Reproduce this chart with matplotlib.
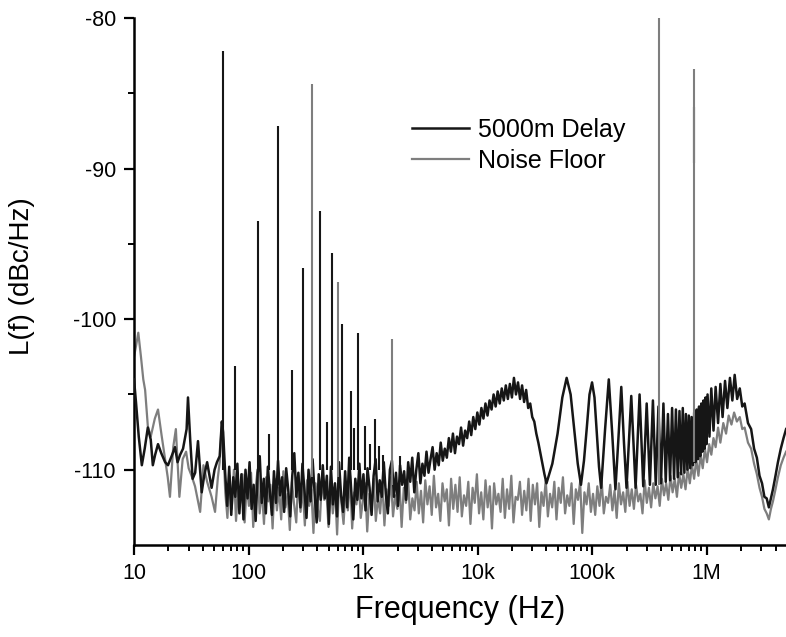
import numpy as np
import matplotlib.pyplot as plt
from matplotlib.ticker import FixedLocator, LogLocator, NullFormatter

plt.rcParams['font.family'] = ['Liberation Sans', 'DejaVu Sans']
plt.rcParams['axes.unicode_minus'] = False

# ---- 5000m Delay trace (dBc/Hz) ----
delay_f_low = [10, 10.4, 11.0, 11.7, 12.4, 13.2, 14.0, 14.6, 15.3, 16.2,
               17.3, 18.7, 19.8, 21.3, 22.8, 24.0, 25.3, 26.8, 28.8, 29.6,
               31.0, 32.5, 34.2, 36.2, 39.0, 41.0, 43.5, 47.6, 50.5, 53.0,
               56.0, 58.5]
delay_db_low = [-104.0, -105.5, -107.8, -109.7, -108.6, -107.2, -108.0, -109.7, -109.0, -108.3,
                -108.9, -109.5, -109.7, -109.1, -108.5, -109.5, -109.0, -108.6, -107.3, -105.2,
                -108.1, -110.6, -110.2, -108.1, -111.5, -110.4, -109.5, -111.2, -110.0, -109.5,
                -109.1, -106.8]
# log-spaced sweep 60 Hz .. 40 kHz
delay_db_mid = [
    -107.5, -110.2, -112.4, -109.8, -113.0, -110.5, -111.8, -109.6, -112.9, -110.3,
    -113.3, -110.0, -111.9, -109.5, -112.6, -111.0, -113.4, -110.2, -109.1, -112.2,
    -110.6, -112.9, -109.8, -111.5, -113.0, -110.1, -112.2, -109.4, -111.7, -110.5,
    -112.8, -109.9, -111.3, -113.1, -110.4, -108.9, -111.8, -110.2, -112.5, -109.6,
    -111.4, -113.2, -110.0, -112.1, -109.3, -111.6, -113.5, -110.3, -112.0, -109.7,
    -111.9, -110.4, -113.6, -109.8, -112.3, -110.9, -113.1, -109.5, -111.7, -112.8,
    -110.1, -112.5, -109.2, -111.4, -113.3, -110.6, -112.0, -109.6, -111.9, -110.3,
    -112.7, -109.9, -111.2, -113.0, -110.4, -109.3, -112.1, -110.7, -111.8, -109.5,
    -111.6, -112.9, -110.0, -109.4, -111.8, -110.2, -112.4, -109.7, -111.0, -110.1,
    -112.0, -109.5, -110.8, -109.2, -111.5, -110.0, -108.9, -110.9, -109.6, -110.4,
    -108.8, -110.2, -109.3, -108.5, -110.0, -108.9, -109.7, -108.2, -109.4, -108.6,
    -109.2, -107.9, -108.8, -107.6, -108.9, -107.8, -108.3, -107.2, -108.4, -107.4,
    -107.9, -106.8, -107.7, -106.5, -107.3, -106.2, -107.0, -105.9, -106.6, -105.6,
    -106.4, -105.4, -106.0, -105.0, -105.8, -104.8, -105.6, -104.6, -105.4, -104.4,
    -105.3, -104.3, -105.2, -103.9, -105.0, -104.2, -105.3, -104.4, -105.5, -104.7,
    -105.9, -105.6, -106.5, -106.8, -107.6, -108.2, -108.9, -109.6, -110.3, -110.9]
delay_f_comb = [45e3, 50e3, 55e3, 60e3, 65e3, 70e3, 75e3, 80e3, 85e3, 90e3,
                95e3, 100e3, 105e3, 110e3, 115e3, 120e3, 130e3, 140e3, 150e3, 160e3,
                170e3, 180e3, 190e3, 200e3, 220e3, 240e3, 260e3, 280e3, 300e3, 320e3,
                340e3, 360e3, 380e3, 400e3, 420e3, 440e3, 460e3, 480e3, 500e3, 520e3,
                540e3, 560e3, 580e3, 600e3, 620e3, 640e3, 660e3, 680e3, 700e3, 720e3,
                740e3, 760e3, 780e3, 800e3, 820e3, 840e3, 860e3, 880e3, 900e3, 920e3,
                940e3, 960e3, 980e3, 1000e3, 1020e3]
delay_db_comb = [-109.6, -107.6, -105.2, -103.9, -105.0, -107.4, -109.6, -111.0, -109.4, -107.2,
                 -105.0, -104.2, -105.2, -107.6, -109.8, -111.2, -107.3, -104.0, -107.6, -111.3,
                 -107.9, -104.5, -108.2, -111.2, -105.1, -111.2, -105.0, -111.1, -105.6, -111.0,
                 -105.4, -111.0, -105.8, -110.9, -105.6, -110.8, -106.3, -110.7, -105.9, -110.6,
                 -106.0, -110.5, -106.1, -110.3, -105.9, -110.2, -106.3, -110.0, -106.4, -109.9,
                 -106.5, -109.7, -106.2, -109.5, -106.0, -109.3, -105.8, -109.1, -105.6, -108.8,
                 -105.4, -108.6, -105.2, -108.3, -105.0]
delay_f_high = [1.06e6, 1.1e6, 1.15e6, 1.2e6, 1.26e6, 1.32e6, 1.38e6, 1.45e6, 1.52e6, 1.6e6,
                1.68e6, 1.76e6, 1.85e6, 1.95e6, 2.05e6, 2.15e6, 2.3e6, 2.45e6, 2.6e6, 2.75e6,
                2.9e6, 3.05e6, 3.2e6, 3.35e6, 3.5e6, 3.65e6, 3.8e6, 4.0e6, 4.2e6, 4.45e6,
                4.7e6, 4.95e6]
delay_db_high = [-107.8, -104.6, -107.4, -104.5, -106.9, -104.3, -106.5, -104.1, -105.9, -103.9,
                 -105.4, -103.7, -105.3, -104.6, -105.8, -105.6, -106.9, -107.3, -108.6, -109.2,
                 -110.4, -110.9, -111.8, -111.9, -112.5, -111.9, -111.3, -110.4, -109.5, -108.6,
                 -107.9, -107.3]

# ---- Noise Floor trace ----
floor_f_low = [10, 10.4, 10.9, 11.5, 12.05, 12.5, 13.2, 14.0, 15.2, 16.2,
               17.4, 18.7, 19.7, 20.6, 22.0, 23.2, 24.9, 26.6, 28.5, 30.0,
               31.8, 34.1, 37.8, 40.4, 43.5, 47.6, 51.0, 54.0, 56.0, 58.5]
floor_db_low = [-102.5, -101.8, -100.9, -102.5, -104.0, -104.7, -107.1, -107.8, -106.6, -106.0,
                -107.7, -109.3, -110.5, -111.8, -108.5, -107.3, -111.8, -109.3, -108.8, -109.9,
                -110.4, -111.1, -112.8, -109.7, -110.8, -111.8, -112.8, -110.5, -109.5, -106.8]
# log-spaced sweep 60 Hz .. 1.2 MHz
floor_db_mid = [
    -108.0, -111.5, -113.2, -110.4, -112.6, -110.0, -113.4, -111.1, -112.2, -110.3,
    -113.5, -111.0, -112.4, -110.2, -113.8, -111.4, -110.0, -112.9, -111.3, -113.6,
    -110.5, -112.1, -111.0, -113.9, -110.6, -112.7, -111.2, -113.3, -110.1, -112.5,
    -111.6, -114.0, -110.8, -112.3, -113.5, -110.4, -112.8, -111.1, -113.7, -110.7,
    -112.4, -111.3, -114.2, -110.9, -112.6, -113.4, -110.5, -112.0, -111.4, -113.8,
    -110.8, -112.9, -111.2, -114.3, -110.6, -112.2, -113.6, -111.0, -112.7, -110.4,
    -113.9, -111.5, -112.3, -110.7, -113.2, -112.0, -110.9, -114.1, -111.6, -112.5,
    -110.6, -113.4, -111.8, -112.9, -110.8, -113.7, -111.3, -112.4, -110.5, -113.1,
    -111.7, -112.6, -110.9, -113.8, -111.2, -112.2, -110.6, -113.3, -111.9, -112.7,
    -110.8, -112.9, -111.4, -113.5, -110.7, -112.3, -111.1, -113.0, -110.4, -112.5,
    -111.6, -113.4, -110.9, -112.1, -111.3, -113.7, -110.6, -112.6, -111.0, -112.8,
    -110.5, -113.1, -111.7, -112.4, -110.8, -113.6, -111.2, -112.2, -110.3, -112.9,
    -111.5, -113.3, -110.7, -112.5, -111.1, -113.9, -110.9, -112.3, -111.6, -112.8,
    -110.6, -113.2, -111.3, -112.6, -110.4, -113.5, -111.8, -112.0, -110.8, -113.0,
    -111.4, -112.7, -110.6, -113.4, -111.0, -112.3, -110.9, -113.8, -111.5, -112.4,
    -110.7, -113.1, -111.6, -112.5, -110.8, -113.3, -111.2, -112.2, -110.5, -112.9,
    -111.7, -112.4, -110.9, -113.6, -111.3, -112.0, -110.8, -114.2, -111.5, -112.3,
    -110.9, -112.8, -111.6, -113.0, -111.1, -112.4, -110.7, -112.9, -111.8, -112.2,
    -111.0, -112.7, -111.4, -113.2, -110.9, -112.3, -111.5, -112.8, -110.8, -112.4,
    -111.3, -112.6, -111.0, -112.1, -111.6, -112.9, -110.7, -112.2, -111.2, -112.5,
    -110.9, -111.9, -111.1, -112.4, -110.6, -111.7, -110.9, -112.0, -110.4, -111.5,
    -110.6, -111.8, -110.2, -111.2, -110.3, -111.3, -109.9, -110.9, -109.7, -110.6,
    -109.3, -110.4, -109.0, -109.9, -108.6, -109.5, -108.3, -109.0, -107.9, -108.5]
floor_f_high = [1.26e6, 1.32e6, 1.4e6, 1.48e6, 1.56e6, 1.65e6, 1.74e6, 1.84e6, 1.95e6, 2.05e6,
                2.15e6, 2.3e6, 2.45e6, 2.6e6, 2.75e6, 2.9e6, 3.05e6, 3.2e6, 3.35e6, 3.5e6,
                3.65e6, 3.8e6, 4.0e6, 4.2e6, 4.45e6, 4.7e6, 4.95e6]
floor_db_high = [-107.2, -108.2, -106.9, -107.6, -106.4, -107.0, -106.2, -106.8, -106.5, -107.3,
                 -107.2, -108.2, -108.6, -109.6, -110.3, -111.2, -111.8, -112.6, -112.9, -113.3,
                 -112.6, -112.1, -111.3, -110.5, -109.7, -109.2, -108.8]

# ---- discrete spurs (frequency, top, foot) ----
spur_f_delay = [60, 76, 120, 150, 180, 240, 300, 420, 480, 540,
                660, 780, 840, 900, 1040, 1150, 1270, 1380, 1500, 2100, 778e3]
spur_top_delay = [-82.2, -103.1, -93.5, -107.6, -87.2, -103.4, -96.6, -92.8, -106.8, -95.6,
                  -100.3, -104.8, -107.2, -100.9, -107.1, -108.3, -106.6, -108.4, -109.0, -109.1, -85.9]
spur_foot_delay = [-110.0] * 20 + [-89.6]
spur_f_floor = [360, 600, 1800, 385e3, 778e3]
spur_top_floor = [-84.4, -97.5, -101.3, -80.0, -83.4]
spur_foot_floor = [-110.5, -110.5, -111.0, -111.0, -109.5]

delay_f = np.concatenate([delay_f_low, np.geomspace(60, 4e4, len(delay_db_mid)), delay_f_comb, delay_f_high])
delay_db = np.concatenate([delay_db_low, delay_db_mid, delay_db_comb, delay_db_high])
floor_f = np.concatenate([floor_f_low, np.geomspace(60, 1.2e6, len(floor_db_mid)), floor_f_high])
floor_db = np.concatenate([floor_db_low, floor_db_mid, floor_db_high])

dark = '#161616'
grey = '#7e7e7e'

fig = plt.figure(figsize=(7.86, 6.37), dpi=100)
ax = fig.add_axes([0.1705, 0.1444, 0.8295, 0.8273])

ax.plot(floor_f, floor_db, color=grey, lw=1.6, zorder=2, label='Noise Floor')
ax.plot(delay_f, delay_db, color=dark, lw=1.8, zorder=3, label='5000m Delay')
ax.vlines(spur_f_delay, spur_foot_delay, spur_top_delay, color=dark, lw=1.5, zorder=3)
ax.vlines(spur_f_floor, spur_foot_floor, spur_top_floor, color=grey, lw=1.5, zorder=4)

ax.set_xscale('log')
ax.set_xlim(10, 4.94e6)
ax.set_ylim(-115, -80)

ax.xaxis.set_major_locator(FixedLocator([10, 100, 1e3, 1e4, 1e5, 1e6]))
ax.set_xticklabels(['10', '100', '1k', '10k', '100k', '1M'])
ax.xaxis.set_minor_locator(LogLocator(base=10, subs=range(2, 10), numticks=20))
ax.xaxis.set_minor_formatter(NullFormatter())
ax.set_yticks([-80, -90, -100, -110])
ax.set_yticks([-85, -95, -105], minor=True)

for s in ['top', 'right']:
    ax.spines[s].set_visible(False)
for s in ['left', 'bottom']:
    ax.spines[s].set_linewidth(1.8)
ax.tick_params(which='major', direction='out', length=7, width=1.6, labelsize=15.5, pad=6)
ax.tick_params(which='minor', direction='out', length=4, width=1.4)

ax.set_xlabel('Frequency (Hz)', fontsize=22)
ax.xaxis.set_label_coords(0.5, -0.095)
ax.xaxis.label.set_va('top')
ax.set_ylabel('L(f) (dBc/Hz)', fontsize=20)
ax.yaxis.set_label_coords(-0.152, 0.51)

h, l = ax.get_legend_handles_labels()
ax.legend(h[::-1], l[::-1], loc='upper left', bbox_to_anchor=(0.524, 0.815),
          bbox_transform=fig.transFigure, frameon=False, fontsize=18,
          handlelength=2.3, handletextpad=0.35, labelspacing=0.28,
          borderpad=0, borderaxespad=0)

plt.savefig('out.png', dpi=100)
